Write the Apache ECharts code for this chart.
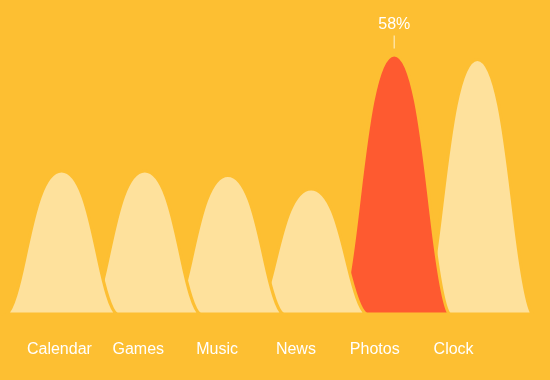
<!DOCTYPE html>
<html>
<head>
<meta charset="utf-8">
<script src="https://cdn.jsdelivr.net/npm/echarts@6/dist/echarts.min.js"></script>
<style>
html,body{margin:0;padding:0;background:#fdbf32;}
#main{width:550px;height:380px;}
</style>
</head>
<body>
<div id="main"></div>
<script>
var categories = ['Calendar', 'Games', 'Music', 'News', 'Photos', 'Clock'];
var values = [32, 32, 31, 28, 58, 57];
var highlightIndex = 4;

var BG = '#fdbf32';
var LIGHT = '#fee19c';
var RED = '#fe5a30';
var FONT = '"Liberation Sans", Arial, Helvetica, sans-serif';

// bell outline in a 100x100 unit box (shape only)
var bellTpl = [
  ['M', 0, 100],
  ['C', 6, 97, 11.4, 80, 16.4, 62],
  ['C', 24, 35, 32, 0, 50, 0],
  ['C', 68, 0, 76, 35, 83.6, 62],
  ['C', 88.6, 80, 94, 97, 100, 100],
  ['Z']
];
var BELL_W = 110;

function bellPathData(cx, top, base) {
  var h = base - top;
  return bellTpl.map(function (seg) {
    var s = seg[0];
    for (var k = 1; k < seg.length; k += 2) {
      var x = cx + (seg[k] - 50) / 100 * BELL_W;
      var y = top + seg[k + 1] / 100 * h;
      s += ' ' + x.toFixed(2) + ',' + y.toFixed(2);
    }
    return s;
  }).join(' ');
}

var seriesData = values.map(function (v, i) { return [i, v]; });

function renderItem(params, api) {
  var idx = api.value(0);
  var val = api.value(1);
  var topPt = api.coord([idx, val]);
  var basePt = api.coord([idx, 0]);
  var isHi = idx === highlightIndex;
  var children = [{
    type: 'path',
    z2: 100 - idx,
    shape: { pathData: bellPathData(topPt[0], topPt[1], basePt[1]) },
    style: { fill: isHi ? RED : LIGHT, stroke: BG, lineWidth: 3 }
  }];
  if (isHi) {
    children.push({
      type: 'line',
      z2: 200,
      shape: { x1: topPt[0], y1: topPt[1] - 19.5, x2: topPt[0], y2: topPt[1] - 6.5 },
      style: { stroke: LIGHT, lineWidth: 1.5 }
    });
    children.push({
      type: 'text',
      z2: 200,
      x: topPt[0],
      y: topPt[1] - 30,
      style: {
        text: val + '%',
        fill: '#ffffff',
        fontSize: 16,
        fontFamily: FONT,
        align: 'center',
        verticalAlign: 'middle'
      }
    });
  }
  return { type: 'group', children: children };
}

var chart = echarts.init(document.getElementById('main'));
chart.setOption({
  backgroundColor: BG,
  animation: false,
  grid: [
    { left: 20, right: 57, top: 46, bottom: 66 },
    { left: 20, right: 31, top: 46, bottom: 66 }
  ],
  xAxis: [
    {
      gridIndex: 0, type: 'category', data: categories,
      axisLine: { show: false }, axisTick: { show: false }, splitLine: { show: false },
      axisLabel: { color: '#ffffff', fontSize: 16, fontFamily: FONT, margin: 28, interval: 0 }
    },
    {
      gridIndex: 1, type: 'category', data: categories,
      axisLine: { show: false }, axisTick: { show: false }, axisLabel: { show: false }, splitLine: { show: false }
    }
  ],
  yAxis: [
    { gridIndex: 0, type: 'value', min: 0, max: 60, show: false },
    { gridIndex: 1, type: 'value', min: 0, max: 60, show: false }
  ],
  series: [
    {
      type: 'custom',
      xAxisIndex: 1,
      yAxisIndex: 1,
      clip: false,
      renderItem: renderItem,
      encode: { x: 0, y: 1 },
      data: seriesData
    }
  ]
});
</script>
</body>
</html>
